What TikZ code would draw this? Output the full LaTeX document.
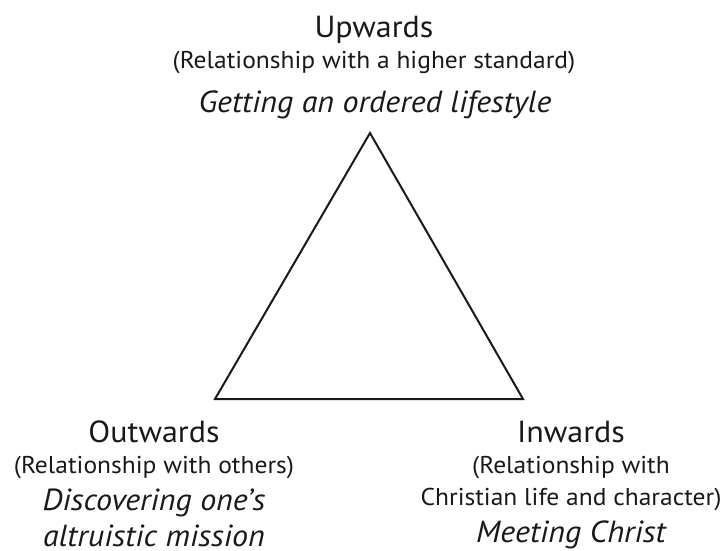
\documentclass[tikz,border=0pt]{standalone}
\usepackage{fontspec}
\setmainfont{PT Sans}[FakeStretch=1.05]
\begin{document}
\begin{tikzpicture}[x=1pt,y=-1pt,
  ink/.style={color=black!90},
  head/.style={ink,anchor=base,inner sep=0pt,font=\fontsize{30.5}{36}\selectfont},
  note/.style={ink,anchor=base,inner sep=0pt,font=\fontsize{24.3}{29}\selectfont},
  goal/.style={ink,anchor=base,inner sep=0pt,font=\fontsize{30.5}{36}\selectfont\itshape},
  edge/.style={draw=black!90,line width=2pt,line join=miter}]
\useasboundingbox (0,0) rectangle (726,550);

% the triangle
\coordinate (apex) at (370,133);
\coordinate (left) at (215,399);
\coordinate (right) at (523,399);
\draw[edge] (apex) -- (left) -- (right) -- cycle;

% upper label
\node[head] (up1) at (374,37) {Upwards};
\node[note] (up2) at (374,68) {(Relationship with a higher standard)};
\node[goal] (up3) at (375,112) {Getting an ordered lifestyle};

% lower left label
\node[head] (out1) at (154,442) {Outwards};
\node[note] (out2) at (154,473) {(Relationship with others)};
\node[goal] (out3) at (154,510) {Discovering one’s};
\node[goal] (out4) at (154,546) {altruistic mission};

% lower right label
\node[head] (in1) at (571,442) {Inwards};
\node[note] (in2) at (571,473) {(Relationship with};
\node[note] (in3) at (571,505) {Christian life and character)};
\node[goal] (in4) at (571,542) {Meeting Christ};
\end{tikzpicture}
\end{document}
